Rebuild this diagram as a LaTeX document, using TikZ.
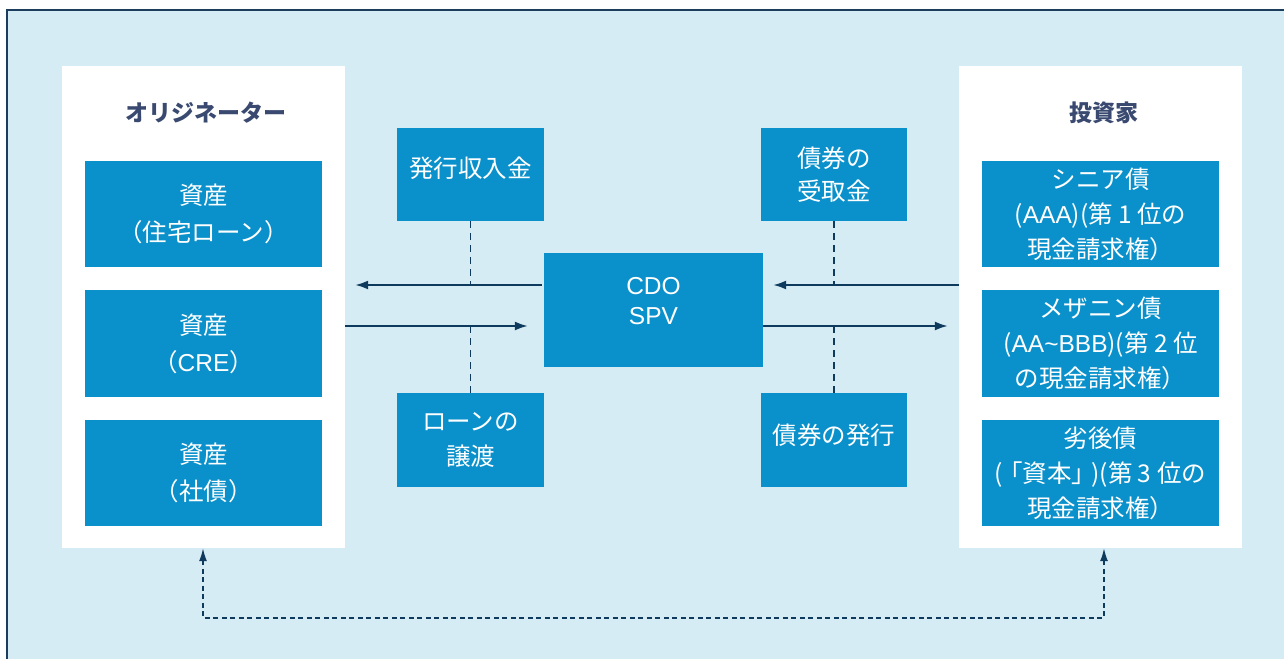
\documentclass[tikz,border=0pt]{standalone}
\usepackage{fontspec}
\setmainfont{Noto Sans CJK JP}
\newfontfamily\latin{Liberation Sans}
\usetikzlibrary{arrows.meta,calc}
\definecolor{bgc}{HTML}{D6ECF5}
\definecolor{boxblue}{HTML}{0A91CB}
\definecolor{navy}{HTML}{0E3A5E}
\definecolor{titlec}{HTML}{3A4970}
\definecolor{framec}{HTML}{1C3D5C}
\tikzset{
  bluebox/.style={fill=boxblue, text=white, inner sep=0pt, align=center,
    font=\fontsize{24.5}{35}\selectfont},
  label/.style={text=white, inner sep=0pt, align=center},
  panel/.style={fill=white, inner sep=0pt, minimum width=283pt, minimum height=482pt},
  ttl/.style={text=titlec, font=\fontsize{23}{27}\selectfont\bfseries},
  flow/.style={navy, line width=1.9pt, -{Latex[length=13pt,width=9pt]}},
  tie/.style={navy, line width=1.4pt, dash pattern=on 7pt off 5pt},
  back/.style={navy, line width=1.6pt, dash pattern=on 5pt off 3.5pt,
    {Latex[length=13pt,width=8pt]}-{Latex[length=13pt,width=8pt]}},
}
\begin{document}
\begin{tikzpicture}[x=1pt,y=-1pt]
\useasboundingbox[fill=white] (0,0) rectangle (1284,659);
\fill[bgc] (7,10) rectangle (1284,659);
\draw[framec, line width=1.5pt] (7,659) -- (7,10) -- (1284,10);

% panels
\node[panel] (lp) at (203.5,307) {};
\node[panel] (rp) at (1100.5,307) {};
\node[ttl] (t1) at (206,113) {オリジネーター};
\node[ttl] (t2) at (1104,113) {投資家};

% left boxes
\node[bluebox, minimum width=237pt, minimum height=106pt, font=\fontsize{24.5}{37}\selectfont] (a1) at (203.5,214) {資産\\（住宅ローン）};
\node[bluebox, minimum width=237pt, minimum height=107pt, font=\fontsize{24.5}{37}\selectfont] (a2) at (203.5,343.5) {資産\\（{\latin CRE}）};
\node[bluebox, minimum width=237pt, minimum height=106pt, font=\fontsize{24.5}{37}\selectfont] (a3) at (203.5,473) {資産\\（社債）};

% right boxes
\node[bluebox, minimum width=237pt, minimum height=106pt] (b1) at (1100.5,214) {シニア債\\({\latin AAA})(第 1 位の\\現金請求権）};
\node[bluebox, minimum width=237pt, minimum height=107pt] (b2) at (1100.5,343.5) {メザニン債\\({\latin AA\textasciitilde BBB})(第 2 位\\の現金請求権）};
\node[bluebox, minimum width=237pt, minimum height=106pt] (b3) at (1100.5,473) {劣後債\\(\kern-0.2em「資本」\kern-0.2em)(第 3 位の\\現金請求権）};

% middle
\node[bluebox, minimum width=147pt, minimum height=93pt] (m1) at (470.5,174.5) {};
\node[label, font=\fontsize{24.5}{35}\selectfont] (m1t) at ([yshift=6pt]m1.center) {発行収入金};
\node[bluebox, minimum width=146pt, minimum height=93pt, font=\fontsize{24.5}{33}\selectfont] (m2) at (834,174.5) {債券の\\受取金};
\node[bluebox, minimum width=219pt, minimum height=114pt] (cdo) at (653.5,310) {};
\node[label, font=\fontsize{24.5}{30}\selectfont\latin] (cdot) at ([yshift=9pt]cdo.center) {CDO\\SPV};
\node[bluebox, minimum width=147pt, minimum height=94pt] (m3) at (470.5,440) {ローンの\\譲渡};
\node[bluebox, minimum width=146pt, minimum height=94pt] (m4) at (834,440) {};
\node[label, font=\fontsize{24.5}{35}\selectfont] (m4t) at ([yshift=5pt]m4.center) {債券の発行};

% flows
\coordinate (ul) at ([yshift=25pt]cdo.west);
\coordinate (ur) at ([yshift=25pt]cdo.east);
\coordinate (ll) at ([yshift=-16pt]cdo.west);
\coordinate (lr) at ([yshift=-16pt]cdo.east);
\draw[flow, shorten <=2pt, shorten >=10pt] (ul) -- (ul -| lp.east);
\draw[flow, shorten >=10pt] (ur -| rp.west) -- (ur);
\draw[flow, shorten >=16pt] (ll -| lp.east) -- (ll);
\draw[flow, shorten >=11pt] (lr) -- (lr -| rp.west);

\draw[tie] (m1.south) -- (m1.south |- ul);
\draw[tie] (m2.south) -- (m2.south |- ur);
\draw[tie] (m3.north |- ll) -- (m3.north);
\draw[tie] (m4.north |- lr) -- (m4.north);

% return path
\coordinate (bl) at (203,618);
\coordinate (br) at (1104,618);
\draw[back] (lp.south -| bl) -- (bl) -- (br) -- (rp.south -| br);
\end{tikzpicture}
\end{document}
